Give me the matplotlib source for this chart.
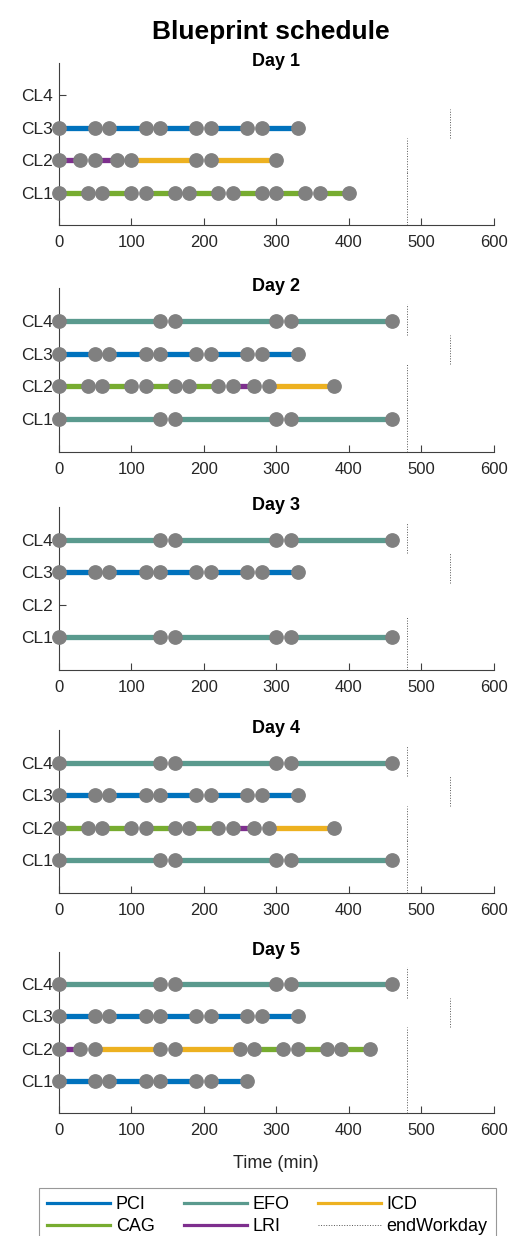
import matplotlib
matplotlib.use('Agg')
import matplotlib.pyplot as plt
from matplotlib.lines import Line2D

plt.rcParams['font.family'] = ['Liberation Sans', 'DejaVu Sans']

# ----------------------------- DATA ------------------------------------------
rooms = ['CL1', 'CL2', 'CL3', 'CL4']
procedures = ['PCI', 'CAG', 'EFO', 'LRI', 'ICD']
colors = {'PCI': '#0072BD', 'CAG': '#77AC30', 'EFO': '#5A9A8E',
          'LRI': '#7E2F8E', 'ICD': '#EDB120'}

# end of workday per room [min] and vertical extent of its marker line (y units)
end_workday = {'CL1': 480, 'CL2': 480, 'CL3': 540, 'CL4': 480}
end_span = {'CL1': (0.0, 1.63), 'CL2': (1.63, 2.68),
            'CL3': (2.68, 3.58), 'CL4': (3.58, 4.52)}

# schedules: (room, procedure, start, end) in [min]
day1 = [('CL1', 'CAG', 0, 40), ('CL1', 'CAG', 60, 100), ('CL1', 'CAG', 120, 160),
        ('CL1', 'CAG', 180, 220), ('CL1', 'CAG', 240, 280), ('CL1', 'CAG', 300, 340),
        ('CL1', 'CAG', 360, 400),
        ('CL2', 'LRI', 0, 30), ('CL2', 'LRI', 50, 80), ('CL2', 'ICD', 100, 190),
        ('CL2', 'ICD', 210, 300),
        ('CL3', 'PCI', 0, 50), ('CL3', 'PCI', 70, 120), ('CL3', 'PCI', 140, 190),
        ('CL3', 'PCI', 210, 260), ('CL3', 'PCI', 280, 330)]

day2 = [('CL1', 'EFO', 0, 140), ('CL1', 'EFO', 160, 300), ('CL1', 'EFO', 320, 460),
        ('CL2', 'CAG', 0, 40), ('CL2', 'CAG', 60, 100), ('CL2', 'CAG', 120, 160),
        ('CL2', 'CAG', 180, 220), ('CL2', 'LRI', 240, 270), ('CL2', 'ICD', 290, 380),
        ('CL3', 'PCI', 0, 50), ('CL3', 'PCI', 70, 120), ('CL3', 'PCI', 140, 190),
        ('CL3', 'PCI', 210, 260), ('CL3', 'PCI', 280, 330),
        ('CL4', 'EFO', 0, 140), ('CL4', 'EFO', 160, 300), ('CL4', 'EFO', 320, 460)]

day3 = [('CL1', 'EFO', 0, 140), ('CL1', 'EFO', 160, 300), ('CL1', 'EFO', 320, 460),
        ('CL3', 'PCI', 0, 50), ('CL3', 'PCI', 70, 120), ('CL3', 'PCI', 140, 190),
        ('CL3', 'PCI', 210, 260), ('CL3', 'PCI', 280, 330),
        ('CL4', 'EFO', 0, 140), ('CL4', 'EFO', 160, 300), ('CL4', 'EFO', 320, 460)]

day4 = [('CL1', 'EFO', 0, 140), ('CL1', 'EFO', 160, 300), ('CL1', 'EFO', 320, 460),
        ('CL2', 'CAG', 0, 40), ('CL2', 'CAG', 60, 100), ('CL2', 'CAG', 120, 160),
        ('CL2', 'CAG', 180, 220), ('CL2', 'LRI', 240, 270), ('CL2', 'ICD', 290, 380),
        ('CL3', 'PCI', 0, 50), ('CL3', 'PCI', 70, 120), ('CL3', 'PCI', 140, 190),
        ('CL3', 'PCI', 210, 260), ('CL3', 'PCI', 280, 330),
        ('CL4', 'EFO', 0, 140), ('CL4', 'EFO', 160, 300), ('CL4', 'EFO', 320, 460)]

day5 = [('CL1', 'PCI', 0, 50), ('CL1', 'PCI', 70, 120), ('CL1', 'PCI', 140, 190),
        ('CL1', 'PCI', 210, 260),
        ('CL2', 'LRI', 0, 30), ('CL2', 'ICD', 50, 140), ('CL2', 'ICD', 160, 250),
        ('CL2', 'CAG', 270, 310), ('CL2', 'CAG', 330, 370), ('CL2', 'CAG', 390, 430),
        ('CL3', 'PCI', 0, 50), ('CL3', 'PCI', 70, 120), ('CL3', 'PCI', 140, 190),
        ('CL3', 'PCI', 210, 260), ('CL3', 'PCI', 280, 330),
        ('CL4', 'EFO', 0, 140), ('CL4', 'EFO', 160, 300), ('CL4', 'EFO', 320, 460)]

days = [day1, day2, day3, day4, day5]
day_titles = ['Day 1', 'Day 2', 'Day 3', 'Day 4', 'Day 5']
xticks = [0, 100, 200, 300, 400, 500, 600]

# ------------------------------ PLOTTING -------------------------------------
W, H = 518, 1236
fig = plt.figure(figsize=(W / 100, H / 100), dpi=100)

# axes top/bottom in pixels
ax_px = [(63, 225), (288, 452), (507, 670), (730, 893), (952, 1113)]
left_px, right_px = 58.7, 493.7
axc = '#404040'

axes = []
for i, sched in enumerate(days):
    top, bot = ax_px[i]
    ax = fig.add_axes([left_px / W, 1 - bot / H, (right_px - left_px) / W, (bot - top) / H])
    axes.append(ax)
    used = []
    for room, proc, start, end in sched:
        y = rooms.index(room) + 1
        ax.plot([start, end], [y, y], color=colors[proc], lw=3.8,
                solid_capstyle='butt', zorder=2)
        ax.plot([start, end], [y, y], ls='none', marker='o', ms=9.6,
                color='#808080', mec='#808080', zorder=3, clip_on=False)
        if room not in used:
            used.append(room)
    for room in used:
        y0, y1 = end_span[room]
        ax.plot([end_workday[room]] * 2, [y0, y1], ls=':', lw=0.7,
                color='#555555', zorder=1)

    ax.set_xlim(0, 600)
    ax.set_ylim(0, 5)
    ax.set_xticks(xticks)
    ax.set_yticks([1, 2, 3, 4])
    ax.set_yticklabels(rooms)
    for s in ['top', 'right']:
        ax.spines[s].set_visible(False)
    for s in ['left', 'bottom']:
        ax.spines[s].set_color(axc)
        ax.spines[s].set_linewidth(0.8)
    ax.tick_params(axis='x', direction='in', length=5, width=0.8, color=axc,
                   labelsize=12, labelcolor='#262626', pad=7)
    ax.tick_params(axis='y', direction='in', length=5, width=0.8, color=axc,
                   labelsize=12.5, labelcolor='#262626', pad=4)
    ax.text(0.5, 1.01, day_titles[i], transform=ax.transAxes, ha='center',
            va='center', fontsize=13, fontweight='bold')

axes[-1].text(0.5, -(1163 - 1113) / 161, 'Time (min)', transform=axes[-1].transAxes,
              ha='center', va='center', fontsize=13, color='#262626')

fig.text(271 / W, 1 - 32 / H, 'Blueprint schedule', ha='center', va='center',
         fontsize=19, fontweight='bold')

handles = []
for proc in procedures:
    handles.append(Line2D([], [], color=colors[proc], lw=2.3))
handles.append(Line2D([], [], color='#555555', lw=0.7, ls=':'))
labels = procedures + ['endWorkday']
# ncol=3 fills column-wise: PCI/CAG, EFO/LRI, ICD/endWorkday
leg = fig.legend(handles, labels, ncol=3, loc='upper left',
                 bbox_to_anchor=(39 / W, 1 - 1188 / H), fontsize=13,
                 frameon=True, fancybox=False, edgecolor='#7f7f7f',
                 handlelength=3.5, handletextpad=0.3, columnspacing=1.6,
                 labelspacing=0.28, borderpad=0.45, borderaxespad=0)
leg.get_frame().set_linewidth(0.8)

fig.savefig('out.png', dpi=100)
